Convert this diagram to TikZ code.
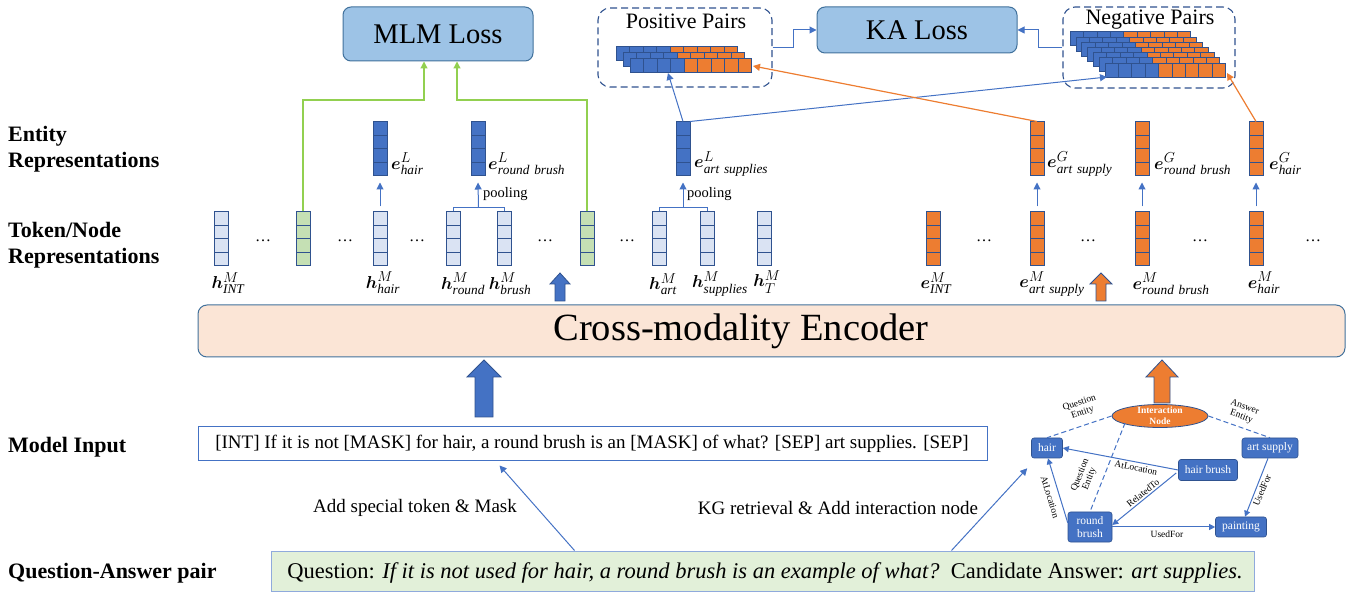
\documentclass[tikz,border=0pt]{standalone}
\usepackage{fontspec}
\setmainfont{Liberation Serif}
\usepackage{amsmath,bm}
\usetikzlibrary{arrows.meta,calc,shapes.geometric}
\definecolor{vborder}{HTML}{2F528F}
\definecolor{vblue}{HTML}{4472C4}
\definecolor{vlight}{HTML}{DAE3F3}
\definecolor{vgreen}{HTML}{C5E0B4}
\definecolor{vorange}{HTML}{ED7D31}
\definecolor{lgreen}{HTML}{92D050}
\definecolor{lossfill}{HTML}{9DC3E6}
\definecolor{lossborder}{HTML}{41719C}
\definecolor{encfill}{HTML}{FBE5D6}
\definecolor{qfill}{HTML}{E2F0D9}
\definecolor{qborder}{HTML}{8FAADC}
\newcommand{\pairrow}[3]{%
  \foreach \i in {0,...,3} \draw[vborder, fill=vblue, line width=0.7pt] ({#1+\i*#3},{#2}) rectangle ++(#3,14);
  \foreach \i in {4,...,8} \draw[vborder, fill=vorange, line width=0.7pt] ({#1+\i*#3},{#2}) rectangle ++(#3,14);
}
\begin{document}
\begin{tikzpicture}[x=1pt,y=-1pt,
  vec/.style={draw=vborder, line width=0.9pt, minimum width=14pt, minimum height=54pt, inner sep=0pt, outer sep=0pt,
    path picture={\foreach \k in {1,2,3}{\draw[vborder,line width=0.9pt] ($(path picture bounding box.north west)!\k/4!(path picture bounding box.south west)$) -- ($(path picture bounding box.north east)!\k/4!(path picture bounding box.south east)$);}}},
  tok/.style={vec, fill=vlight},
  gtok/.style={vec, fill=vgreen},
  btok/.style={vec, fill=vblue},
  otok/.style={vec, fill=vorange},
  lbl/.style={font=\fontsize{19}{22}\selectfont, inner sep=0pt},
  dots/.style={font=\fontsize{16}{18}\selectfont, inner sep=0pt},
  side/.style={font=\fontsize{22}{26}\selectfont\bfseries, align=left, anchor=west, inner sep=0pt},
  tip/.style={-{Triangle[length=7pt,width=7pt]}},
  stip/.style={-{Triangle[length=7pt,width=7pt]}},
  ktip/.style={-{Triangle[length=6pt,width=6pt]}},
  bline/.style={draw=vblue, line width=1pt},
  oline/.style={draw=vorange, line width=1.2pt},
  gline/.style={draw=lgreen, line width=1.2pt},
  loss/.style={draw=lossborder, fill=lossfill, line width=1pt, rounded corners=8pt, font=\fontsize{28.5}{32}\selectfont},
  dbox/.style={draw=vborder, dashed, dash pattern=on 7pt off 4pt, line width=1.1pt, rounded corners=12pt},
  kg/.style={fill=vblue, draw=vborder, line width=0.6pt, rounded corners=2.5pt, text=white, font=\fontsize{11.5}{12.5}\selectfont, inner sep=1pt, align=center},
  kgl/.style={font=\fontsize{9.5}{10}\selectfont, inner sep=0pt, align=center},
  kline/.style={draw=vblue, line width=1pt},
  plain/.style={font=\fontsize{19}{22}\selectfont, inner sep=0pt}
]
\useasboundingbox (0,0) rectangle (1353,593);

% ---------- left labels
\node[side] (sEnt) at (8,149) {Entity\\Representations};
\node[side] (sTok) at (8,245) {Token/Node\\Representations};
\node[side] (sIn) at (8,447) {Model Input};
\node[side] (sQA) at (8,573) {Question-Answer pair};

% ---------- token row
\node[tok] (hint) at (221,238.5) {};
\node[dots] (d1) at (263,241) {\dots};
\node[gtok] (g1) at (303,238.5) {};
\node[dots] (d2) at (345,241) {\dots};
\node[tok] (hhair) at (380,238.5) {};
\node[dots] (d3) at (417,241) {\dots};
\node[tok] (hround) at (453,238.5) {};
\node[tok] (hbrush) at (504,238.5) {};
\node[dots] (d4) at (545,241) {\dots};
\node[gtok] (g2) at (587,238.5) {};
\node[dots] (d5) at (627,241) {\dots};
\node[tok] (hart) at (659,238.5) {};
\node[tok] (hsup) at (707,238.5) {};
\node[tok] (hT) at (764,238.5) {};
\node[otok] (eint) at (933,238.5) {};
\node[dots] (d6) at (984,241) {\dots};
\node[otok] (emart) at (1037,238.5) {};
\node[dots] (d7) at (1088,241) {\dots};
\node[otok] (emround) at (1142,238.5) {};
\node[dots] (d8) at (1200,241) {\dots};
\node[otok] (emhair) at (1256,238.5) {};
\node[dots] (d9) at (1313,241) {\dots};

% token labels
\node[lbl] (lhint) at (228,283) {$\bm{h}^{M}_{\mathit{INT}}$};
\node[lbl] (lhhair) at (383,283) {$\bm{h}^{M}_{\mathit{hair}}$};
\node[lbl] (lhround) at (463,284) {$\bm{h}^{M}_{\mathit{round}}$};
\node[lbl] (lhbrush) at (510,284) {$\bm{h}^{M}_{\mathit{brush}}$};
\node[lbl] (lhart) at (663,284) {$\bm{h}^{M}_{\mathit{art}}$};
\node[lbl] (lhsup) at (720,284) {$\bm{h}^{M}_{\mathit{supplies}}$};
\node[lbl] (lhT) at (767,282) {$\bm{h}^{M}_{T}$};
\node[lbl] (leint) at (936,283) {$\bm{e}^{M}_{\mathit{INT}}$};
\node[lbl] (lemart) at (1052,284) {$\bm{e}^{M}_{\mathit{art\ supply}}$};
\node[lbl] (lemround) at (1171,284) {$\bm{e}^{M}_{\mathit{round\ brush}}$};
\node[lbl] (lemhair) at (1264,283) {$\bm{e}^{M}_{\mathit{hair}}$};

% ---------- entity row
\node[btok] (eLhair) at (380,148.5) {};
\node[btok] (eLround) at (478,148.5) {};
\node[btok] (eLart) at (683,148.5) {};
\node[otok] (eGart) at (1037,148.5) {};
\node[otok] (eGround) at (1142,148.5) {};
\node[otok] (eGhair) at (1256,148.5) {};

\node[lbl, anchor=west] (leLhair) at (391,164) {$\bm{e}^{L}_{\mathit{hair}}$};
\node[lbl, anchor=west] (leLround) at (488,164) {$\bm{e}^{L}_{\mathit{round\ brush}}$};
\node[lbl, anchor=west] (leLart) at (694,164) {$\bm{e}^{L}_{\mathit{art\ supplies}}$};
\node[lbl, anchor=west] (leGart) at (1047,164) {$\bm{e}^{G}_{\mathit{art\ supply}}$};
\node[lbl, anchor=west] (leGround) at (1154,164) {$\bm{e}^{G}_{\mathit{round\ brush}}$};
\node[lbl, anchor=west] (leGhair) at (1269,164) {$\bm{e}^{G}_{\mathit{hair}}$};

% small arrows token -> entity
\draw[bline, stip] ($(hhair.north)+(0,-5)$) -- ($(eLhair.south)+(0,7)$);
\draw[bline] (hround.north) -- ++(0,-4) -| (hbrush.north);
\draw[bline, stip] ($(hround.north)!0.5!(hbrush.north)+(0,-4)$) -- ($(eLround.south)+(0,7)$);
\node[font=\fontsize{14.5}{16}\selectfont, anchor=west, inner sep=0pt] (pool1) at (483,194) {pooling};
\draw[bline] (hart.north) -- ++(0,-4) -| (hsup.north);
\draw[bline, stip] ($(hart.north)!0.5!(hsup.north)+(0,-4)$) -- ($(eLart.south)+(0,7)$);
\node[font=\fontsize{14.5}{16}\selectfont, anchor=west, inner sep=0pt] (pool2) at (687,194) {pooling};
\draw[bline, stip] ($(emart.north)+(0,-5)$) -- ($(eGart.south)+(0,7)$);
\draw[bline, stip] ($(emround.north)+(0,-5)$) -- ($(eGround.south)+(0,7)$);
\draw[bline, stip] ($(emhair.north)+(0,-5)$) -- ($(eGhair.south)+(0,7)$);

% ---------- losses
\node[loss, minimum width=190, minimum height=54] (mlm) at (438,34) {MLM Loss};
\node[loss, minimum width=200, minimum height=46] (ka) at (917,30) {KA Loss};

\coordinate (mlmL) at (424,100);
\coordinate (mlmR) at (457,100);
\draw[gline, tip] (g1.north) |- (mlmL) -- (mlmL |- mlm.south);
\draw[gline, tip] (g2.north) |- (mlmR) -- (mlmR |- mlm.south);

% ---------- pairs boxes
\node[dbox, minimum width=174, minimum height=79] (pos) at (685,47.5) {};
\node[font=\fontsize{22}{24}\selectfont, inner sep=0pt] (posT) at (686,21) {Positive Pairs};
\foreach \L in {2,1,0} { \pairrow{630-7*\L}{58-6*\L}{13.5} }
\coordinate (posB) at (668,73);
\coordinate (posR) at (753,66);

\node[dbox, minimum width=172, minimum height=81] (neg) at (1149,47.5) {};
\node[font=\fontsize{22}{24}\selectfont, inner sep=0pt] (negT) at (1150,20) {Negative Pairs};
\foreach \L in {6,5,4,3,2,1,0} { \pairrow{1105-5.8*\L}{63-5.2*\L}{13.4} }
\coordinate (negB) at (1107,77);
\coordinate (negR) at (1227,73);

\draw[bline, tip] (pos.east) -- ++(21,0) |- (ka.west);
\draw[bline, tip] (neg.west) -- ++(-24,0) |- (ka.east);

\draw[bline, tip] (eLart.north) -- (posB);
\draw[bline, tip] (eLart.north east) -- (negB);
\draw[oline, tip] (eGart.north) -- (posR);
\draw[oline, tip] (eGhair.north) -- (negR);

% ---------- encoder
\node[draw=lossborder, fill=encfill, line width=1pt, rounded corners=9pt, minimum width=1147, minimum height=52] (enc) at (771.5,331) {};
\node[font=\fontsize{38.5}{42}\selectfont, inner sep=0pt] (encT) at (741,331) {Cross-modality Encoder};

% block arrows
\draw[draw=vborder, fill=vblue, line width=0.8pt] (484,360) -- (501,377) -- (493,377) -- (493,417) -- (475,417) -- (475,377) -- (467,377) -- cycle;
\draw[draw=vborder, fill=vorange, line width=0.8pt] (1162,360) -- (1178,377) -- (1170,377) -- (1170,403) -- (1154,403) -- (1154,377) -- (1146,377) -- cycle;
\draw[draw=vborder, fill=vblue, line width=0.8pt] (560,273) -- (570,284) -- (565,284) -- (565,301) -- (555,301) -- (555,284) -- (550,284) -- cycle;
\draw[draw=vborder, fill=vorange, line width=0.8pt] (1101,273) -- (1112,284) -- (1106,284) -- (1106,301) -- (1096,301) -- (1096,284) -- (1090,284) -- cycle;

% ---------- model input
\node[draw=vblue, line width=1pt, minimum width=789, minimum height=34] (inp) at (592.5,444) {};
\node[font=\fontsize{19}{22}\selectfont, inner sep=0pt] (inpT) at (592,444) {[INT] If it is not [MASK] for hair, a round brush is an [MASK] of what? [SEP] art supplies. [SEP]};

% ---------- question box
\node[draw=qborder, fill=qfill, line width=1pt, minimum width=983, minimum height=40] (qa) at (762.5,571) {};
\node[font=\fontsize{22.5}{24}\selectfont, inner sep=0pt] (qaT) at (765,573) {Question: \textit{If it is not used for hair, a round brush is an example of what?}\ \ Candidate Answer: \textit{art supplies.}};

\node[plain] (lab1) at (415,508) {Add special token \& Mask};
\node[plain] (lab2) at (838,508) {KG retrieval \& Add interaction node};

% ---------- knowledge graph
\node[ellipse, draw=vborder, fill=vorange, line width=0.8pt, minimum width=96, minimum height=23, inner sep=0pt] (int) at (1160,416) {};
\node[font=\fontsize{9.5}{10.5}\selectfont\bfseries, text=white, align=center, inner sep=0pt] (intT) at (int.center) {Interaction\\Node};
\node[kg, minimum width=31, minimum height=20] (hair) at (1047,448) {hair};
\node[kg, minimum width=56, minimum height=20] (asup) at (1270,448) {art supply};
\node[kg, minimum width=59, minimum height=21] (hb) at (1208,470) {hair brush};
\node[kg, minimum width=44, minimum height=30] (rb) at (1090,527) {round\\brush};
\node[kg, minimum width=51, minimum height=20] (paint) at (1241,527) {painting};

\draw[bline, tip] ($(qa.north west)+(304,0)$) -- ($(inp.south west)+(302,4)$);
\draw[bline, tip] ($(qa.north west)+(681,0)$) -- ($(hair.south west)+(-4,10)$);

\draw[kline, dashed, dash pattern=on 5pt off 3pt] (int.west) -- (hair.north);
\draw[kline, dashed, dash pattern=on 5pt off 3pt] (int.east) -- (asup.north);
\draw[kline, dashed, dash pattern=on 5pt off 3pt] ($(int.center)+(-35,7)$) -- (rb.north);
\draw[kline, ktip] (hb.west) -- (hair.east);
\draw[kline, ktip] ($(hb.west)+(-2,3)$) -- ($(rb.east)+(0,-2)$);
\draw[kline, ktip] ($(rb.north west)+(0,11)$) -- ($(hair.south)+(1,0)$);
\draw[kline, ktip] (rb.east) -- (paint.west);
\draw[kline, ktip] ($(asup.south)+(-2,0)$) -- ($(paint.north)+(4,0)$);

\node[kgl, rotate=19] (q1) at (1081,408) {Question\\Entity};
\node[kgl, rotate=-20] (a1) at (1243,412) {Answer\\Entity};
\node[kgl, rotate=68] (q2) at (1085,477) {Question\\Entity};
\node[kgl, rotate=-11] (r1) at (1136,468) {AtLocation};
\node[kgl, rotate=39] (r2) at (1143,493) {RelatedTo};
\node[kgl, rotate=-73] (r3) at (1050,497) {AtLocation};
\node[kgl] (r4) at (1167,534) {UsedFor};
\node[kgl, rotate=67] (r5) at (1262,490) {UsedFor};
\end{tikzpicture}
\end{document}
